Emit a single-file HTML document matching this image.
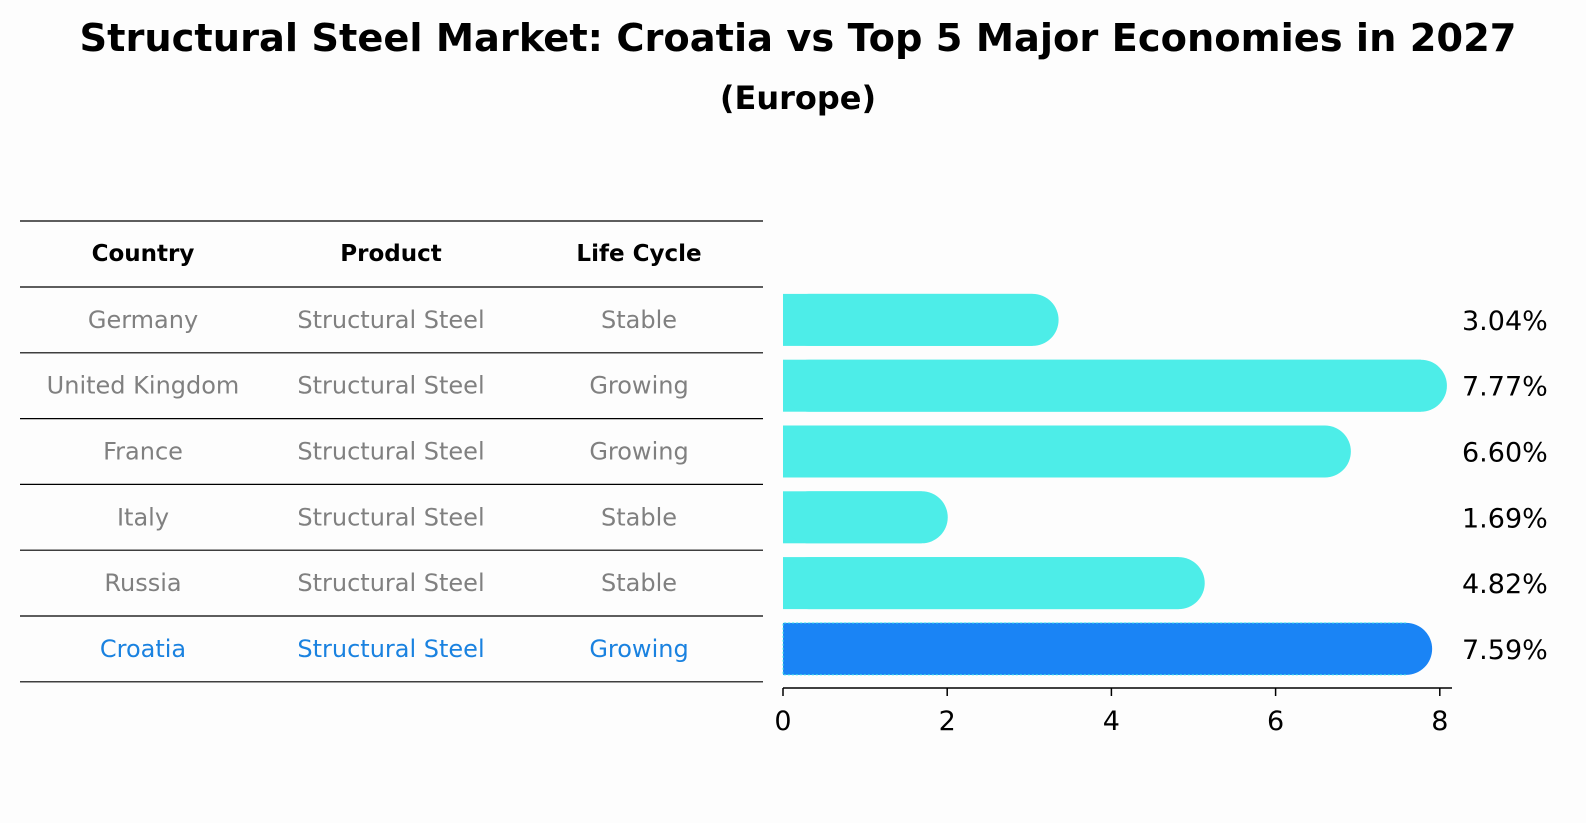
<!DOCTYPE html>
<html><head><meta charset="utf-8"><style>
html,body{margin:0;padding:0;background:#fdfdfd;}
svg{display:block;font-family:"DejaVu Sans","Liberation Sans",sans-serif;}
</style></head><body>
<svg width="1586" height="823" viewBox="0 0 1586 823" xmlns="http://www.w3.org/2000/svg" id="chart">
<rect width="1586" height="823" fill="#fdfdfd"/>
<text x="798" y="51" text-anchor="middle" font-size="38" font-weight="bold" textLength="1437" lengthAdjust="spacingAndGlyphs">Structural Steel Market: Croatia vs Top 5 Major Economies in 2027</text>
<text x="798" y="109" text-anchor="middle" font-size="32" font-weight="bold">(Europe)</text>
<g id="table"></g>
<g id="bars"></g>
<g id="axis"></g>
</svg>
<script>
const countries=["Germany","United Kingdom","France","Italy","Russia","Croatia"];
const products=["Structural Steel","Structural Steel","Structural Steel","Structural Steel","Structural Steel","Structural Steel"];
const lifecycle=["Stable","Growing","Growing","Stable","Stable","Growing"];
const values=[3.04,7.77,6.60,1.69,4.82,7.59];
const valueLabels=["3.04%","7.77%","6.60%","1.69%","4.82%","7.59%"];
const ticks=[0,2,4,6,8];
const highlight="Croatia";

const NS="http://www.w3.org/2000/svg";
function mk(tag,attrs,parent,text){const e=document.createElementNS(NS,tag);for(const k in attrs)e.setAttribute(k,attrs[k]);if(text!==undefined)e.textContent=text;parent.appendChild(e);return e;}
const x0=783,pxPer=82.1;
const xs=v=>x0+v*pxPer;
const rowTop=287,rowH=65.8;
const yc=i=>rowTop+rowH*(i+0.5);

const table=document.getElementById('table');
const lineYs=[221,rowTop];
for(let i=1;i<=countries.length;i++)lineYs.push(rowTop+rowH*i);
lineYs.forEach((y,i)=>{const l=mk('line',{x1:20,x2:763,y1:y,y2:y,stroke:'#000','stroke-width':1.2},table);

});
const colX=[143,391,639];
["Country","Product","Life Cycle"].forEach((h,j)=>{const t=mk('text',{x:colX[j],y:261,'text-anchor':'middle','font-size':23,'font-weight':'bold'},table,h);

});
countries.forEach((c,i)=>{
  const col=c===highlight?'#1a82e0':'#808080';
  [c,products[i],lifecycle[i]].forEach((s,j)=>{
    const t=mk('text',{x:colX[j],y:yc(i)+8,'text-anchor':'middle','font-size':24,fill:col},table,s);
    
    
  });
});

const bars=document.getElementById('bars');
const bh=52,r=26;
values.forEach((v,i)=>{
  const hi=countries[i]===highlight;
  const col=hi?'#1a84f5':'#4dede8';
  const g=mk('g',{},bars);
  
  
  const y=yc(i)-bh/2;
  mk('rect',{x:x0,y:y,width:Math.max(0,xs(v)-x0),height:bh,fill:col},g);
  mk('rect',{x:x0,y:y,width:Math.max(0,xs(v)-x0)+r,height:bh,rx:r,ry:r,fill:col},g);
  if(hi)mk('path',{d:`M${xs(v)},${y} H${x0} V${y+bh} H${xs(v)}`,fill:'none',stroke:'#4dede8','stroke-width':1,'stroke-dasharray':'2,2'},g);
  const t=mk('text',{x:1462,y:yc(i)+10,'font-size':27},bars,valueLabels[i]);
  
  
});

const axis=document.getElementById('axis');
mk('line',{x1:x0,x2:1452,y1:688,y2:688,stroke:'#000','stroke-width':1.5},axis);
ticks.forEach(t=>{
  mk('line',{x1:xs(t),x2:xs(t),y1:688,y2:696,stroke:'#000','stroke-width':1.5},axis);
  const e=mk('text',{x:xs(t),y:730,'text-anchor':'middle','font-size':27},axis,String(t));
  
  
});
</script>
</body></html>
